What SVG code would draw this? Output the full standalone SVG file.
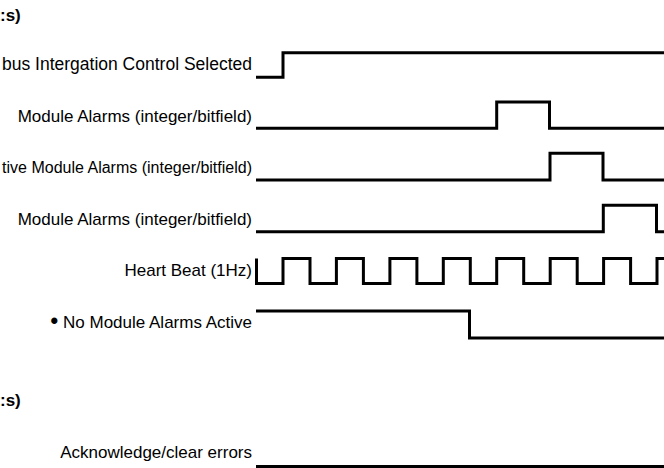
<svg xmlns="http://www.w3.org/2000/svg" width="664" height="468" viewBox="0 0 664 468">
<style>
text{font-family:"Liberation Sans",Arial,sans-serif;font-size:17px;fill:#000}
.lbl{text-anchor:end}
.hdr{font-weight:bold}
.sig{fill:none;stroke:#000;stroke-width:3;stroke-linejoin:miter;stroke-linecap:butt}
</style>
<rect width="664" height="468" fill="#fff"/>
<g id="header-top"><text class="hdr" x="0" y="21">:s)</text></g>
<g id="node-modbus"><text class="lbl" x="252" y="70" style="font-size:17.5px">bus Intergation Control Selected</text></g>
<g id="node-alarms1"><text class="lbl" x="252" y="121.5">Module Alarms (integer/bitfield)</text></g>
<g id="node-alarms2"><text class="lbl" x="252" y="173" style="font-size:16px">tive Module Alarms (integer/bitfield)</text></g>
<g id="node-alarms3"><text class="lbl" x="252" y="224.5">Module Alarms (integer/bitfield)</text></g>
<g id="node-heartbeat"><text class="lbl" x="252" y="276">Heart Beat (1Hz)</text></g>
<g id="node-noalarms"><text class="lbl" x="252" y="327.5"><tspan style="font-size:23px" dy="1">•</tspan><tspan dy="-1"> No Module Alarms Active</tspan></text></g>
<g id="header-bottom"><text class="hdr" x="0" y="406">:s)</text></g>
<g id="node-ack"><text class="lbl" x="252" y="458">Acknowledge/clear errors</text></g>
<g id="connectors">
<path class="sig" d="M256,77.3 H283 V52.7 H664"/>
<path class="sig" d="M256,128.3 H496.7 V102 H549.5 V128.3 H664"/>
<path class="sig" d="M256,180 H550 V153.3 H603 V180 H664"/>
<path class="sig" d="M256,231.7 H603.3 V205.3 H656.5 V231.7 H664"/>
<path class="sig" d="M256.5,258.5 V283.5 H283 V258.5 H310 V283.5 H336.4 V258.5 H363.4 V283.5 H389.9 V258.5 H416.9 V283.5 H443.3 V258.5 H470.3 V283.5 H496.7 V258.5 H523.7 V283.5 H550.2 V258.5 H577.2 V283.5 H603.6 V258.5 H630.6 V283.5 H657 V258.5 H664"/>
<path class="sig" d="M256,311 H469.5 V338 H664"/>
<path class="sig" d="M256,466.5 H664"/>
</g>
</svg>
